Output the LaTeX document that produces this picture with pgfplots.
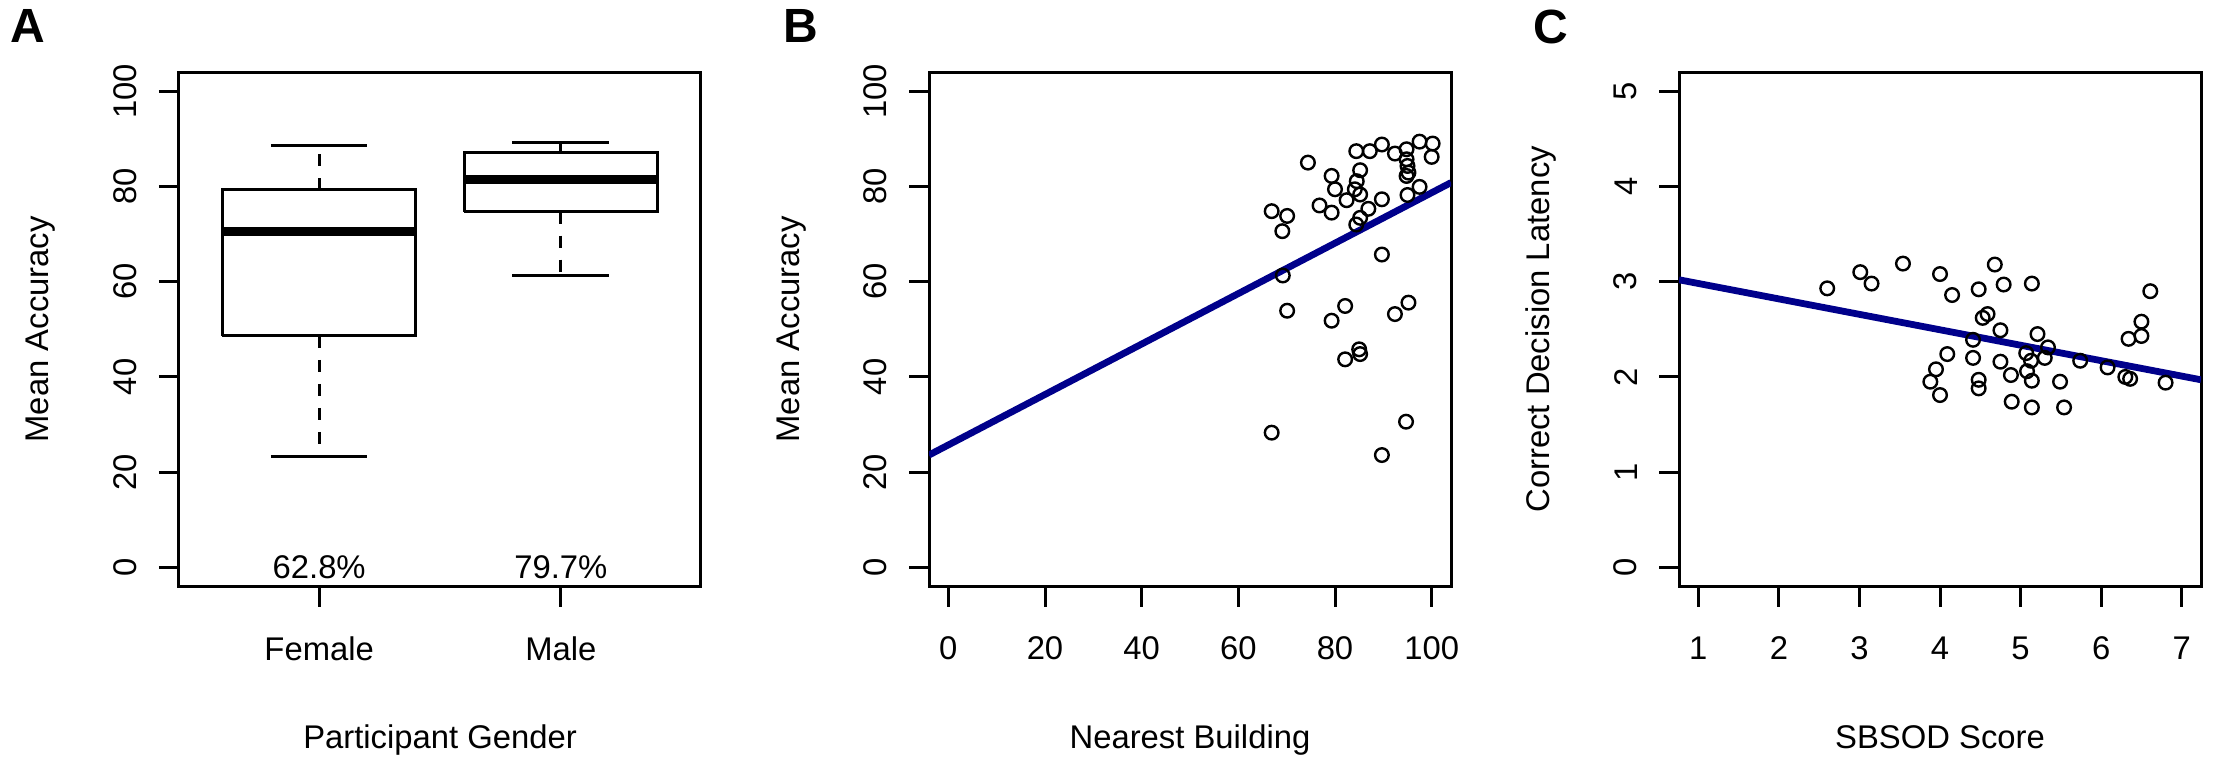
\documentclass[border=0pt]{standalone}
\usepackage{fontspec}
\setmainfont{Liberation Sans}
\usepackage{pgfplots}
\pgfplotsset{compat=1.18}
\definecolor{rblue}{RGB}{0,0,139}
\pgfplotsset{
  rstyle/.style={
    scale only axis, width=130.5pt, height=128.6pt,
    anchor=south west,
    axis line style={line width=0.75pt},
    tick style={black, line width=0.75pt},
    tick align=outside, major tick length=5pt,
    tick pos=left,
    /pgf/number format/assume math mode=true,
    ticklabel style={font=\fontsize{8.2}{9.8}\selectfont},
    yticklabel style={rotate=90, anchor=south, inner xsep=0pt, inner ysep=5.3pt},
    xticklabel style={anchor=north, inner xsep=0pt, inner ysep=7.3pt},
    every axis x label/.style={at={(axis description cs:0.5,0)}, yshift=-40.5pt, anchor=base, inner sep=0pt, font=\fontsize{8.2}{9.8}\selectfont},
    every axis y label/.style={at={(axis description cs:0,0.5)}, xshift=-32.5pt, rotate=90, anchor=base, inner sep=0pt, font=\fontsize{8.2}{9.8}\selectfont},
  },
  boxline/.style={black, line width=0.75pt, no marks},
  whisk/.style={black, line width=0.75pt, no marks, dash pattern=on 3pt off 3pt},
  med/.style={black, line width=2.2pt, no marks},
  pts/.style={only marks, mark=o, mark size=1.7pt, mark options={line width=0.6pt, black}},
  regl/.style={rblue, line width=1.7pt, no marks},
}
\begin{document}
\begin{tikzpicture}
\path[use as bounding box] (0,0) rectangle (555pt,190.75pt);
% ---------------- A ----------------
\begin{axis}[rstyle, at={(44.75pt,44.125pt)},
  xmin=0.42, xmax=2.58, ymin=-4, ymax=104,
  xtick={1,2}, xticklabels={Female,Male},
  ytick={0,20,40,60,80,100},
  xlabel={Participant Gender}, ylabel={Mean Accuracy}]
% Female
\addplot[boxline] coordinates {(0.6,48.6) (1.4,48.6) (1.4,79.3) (0.6,79.3) (0.6,48.6)};
\addplot[med] coordinates {(0.6,70.6) (1.4,70.6)};
\addplot[whisk] coordinates {(1,79.3) (1,88.5)};
\addplot[whisk] coordinates {(1,48.6) (1,23.4)};
\addplot[boxline] coordinates {(0.8,88.5) (1.2,88.5)};
\addplot[boxline] coordinates {(0.8,23.4) (1.2,23.4)};
% Male
\addplot[boxline] coordinates {(1.6,74.7) (2.4,74.7) (2.4,87.2) (1.6,87.2) (1.6,74.7)};
\addplot[med] coordinates {(1.6,81.4) (2.4,81.4)};
\addplot[whisk] coordinates {(2,87.2) (2,89.2)};
\addplot[whisk] coordinates {(2,74.7) (2,61.2)};
\addplot[boxline] coordinates {(1.8,89.2) (2.2,89.2)};
\addplot[boxline] coordinates {(1.8,61.2) (2.2,61.2)};
\node[font=\fontsize{8.2}{9.8}\selectfont, inner sep=0pt] at (axis cs:1,0) {62.8\%};
\node[font=\fontsize{8.2}{9.8}\selectfont, inner sep=0pt] at (axis cs:2,0) {79.7\%};
\end{axis}
% ---------------- B ----------------
\begin{axis}[rstyle, at={(232.25pt,44.125pt)},
  xmin=-4, xmax=104, ymin=-4, ymax=104,
  xtick={0,20,40,60,80,100},
  ytick={0,20,40,60,80,100},
  xlabel={Nearest Building}, ylabel={Mean Accuracy}]
\addplot[pts] coordinates {
(74.4,85.0) (66.9,74.8) (70.1,73.8) (69.1,70.6) (79.3,82.2) (80.0,79.4)
(76.8,76.0) (79.3,74.5) (82.4,77.1) (84.4,87.4) (85.2,83.4) (84.5,81.1)
(84.1,79.4) (85.2,78.3) (87.2,87.4) (89.7,88.8) (92.4,86.9) (94.8,87.8)
(94.8,85.7) (95.0,84.3) (95.2,82.9) (94.8,82.2) (97.5,89.4) (100.2,89.0)
(100.0,86.2) (97.5,79.9) (95.0,78.2) (89.7,77.3) (86.9,75.3) (85.2,73.4)
(84.4,72.0) (89.7,65.7) (69.2,61.3) (70.1,53.9) (79.3,51.8) (82.1,54.9)
(82.1,43.7) (85.0,45.8) (85.2,44.8) (92.4,53.2) (95.2,55.6) (66.9,28.3)
(94.7,30.6) (89.7,23.6)};
\addplot[regl] coordinates {(-4,23.6) (104,80.8)};
\end{axis}
% ---------------- C ----------------
\begin{axis}[rstyle, at={(419.75pt,44.125pt)},
  xmin=0.76, xmax=7.24, ymin=-0.2, ymax=5.2,
  xtick={1,2,3,4,5,6,7},
  ytick={0,1,2,3,4,5},
  xlabel={SBSOD Score}, ylabel={Correct Decision Latency}]
\addplot[pts] coordinates {
(2.60,2.93) (3.01,3.10) (3.15,2.98) (3.54,3.19) (4.00,3.08) (4.15,2.86)
(4.48,2.92) (4.68,3.18) (4.79,2.97) (4.53,2.62) (4.59,2.66) (4.75,2.49)
(4.41,2.39) (4.09,2.24) (4.41,2.20) (4.75,2.16) (3.95,2.08) (3.88,1.95)
(4.00,1.81) (4.48,1.97) (4.48,1.88) (4.88,2.02) (4.89,1.74)
(5.14,2.98) (5.21,2.45) (5.34,2.31) (5.07,2.25) (5.30,2.20) (5.13,2.17)
(5.08,2.06) (5.14,1.96) (5.49,1.95) (5.14,1.68) (5.54,1.68) (5.74,2.17)
(6.08,2.10) (6.30,2.00) (6.36,1.98) (6.34,2.40) (6.50,2.43) (6.50,2.58)
(6.61,2.90) (6.80,1.94)};
\addplot[regl] coordinates {(0.76,3.02) (7.24,1.97)};
\end{axis}
% ---------------- panel letters ----------------
\node[anchor=north west, inner sep=0pt, font=\bfseries\fontsize{12}{14}\selectfont] at (2.5pt,188.5pt) {A};
\node[anchor=north west, inner sep=0pt, font=\bfseries\fontsize{12}{14}\selectfont] at (195.75pt,188.5pt) {B};
\node[anchor=north west, inner sep=0pt, font=\bfseries\fontsize{12}{14}\selectfont] at (383.25pt,188.5pt) {C};
\end{tikzpicture}
\end{document}
